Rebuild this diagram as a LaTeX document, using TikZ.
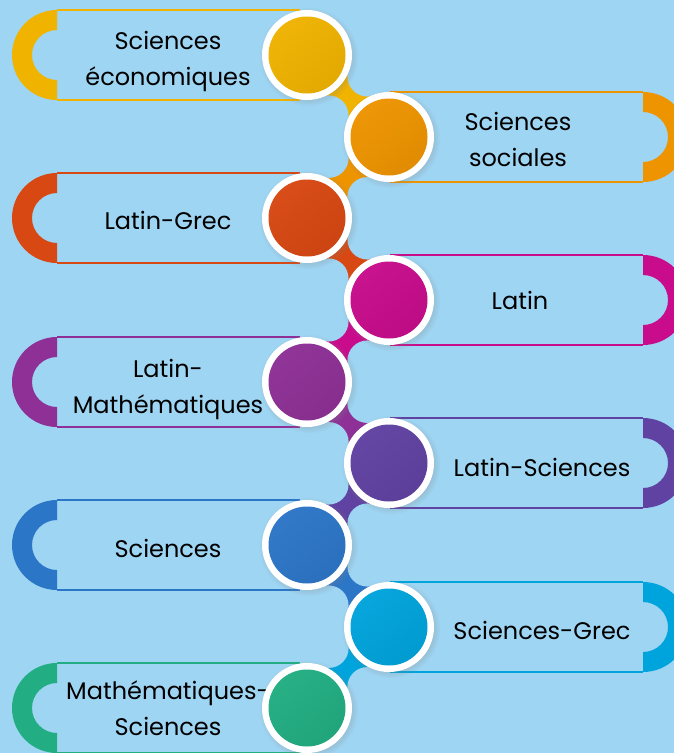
\documentclass[tikz,border=0pt]{standalone}
\usepackage{fontspec}
\setmainfont{Poppins}
\usepackage{tikz}
\usetikzlibrary{shadows,calc}

\definecolor{skyblue}{RGB}{158,213,243}
\definecolor{cyellow}{RGB}{240,179,0}
\definecolor{corange}{RGB}{238,148,0}
\definecolor{cred}{RGB}{216,72,18}
\definecolor{cmagenta}{RGB}{200,12,140}
\definecolor{cpurple}{RGB}{142,48,150}
\definecolor{cviolet}{RGB}{96,66,162}
\definecolor{cblue}{RGB}{44,118,200}
\definecolor{ccyan}{RGB}{0,164,220}
\definecolor{cgreen}{RGB}{34,174,130}

\begin{document}
\begin{tikzpicture}[x=1pt,y=-1pt,
  dot/.style={circle, fill=white, minimum size=90pt, inner sep=0pt,
    circular drop shadow={shadow xshift=1.5pt, shadow yshift=-1.5pt, opacity=0.25},
    path picture={\shade[top color=#1!97!white, bottom color=#1!94!black, shading angle=40]
      (path picture bounding box.center) circle[radius=38.5pt];}},
  bridge/.style={draw=#1, line width=40pt},
  txt/.style={align=center, font=\fontsize{24}{36}\selectfont},
  pics/lframe/.style={code={
    \fill[#1] (57,-45) arc[start angle=90, end angle=270, radius=45pt]
      -- (57,25) arc[start angle=270, end angle=90, radius=25pt] -- cycle;
    \draw[#1, line width=1.5pt] (57,-45) -- (300,-45) (57,45) -- (300,45);}},
  pics/rframe/.style={code={
    \fill[#1] (643,-45) arc[start angle=90, end angle=-90, radius=45pt]
      -- (643,25) arc[start angle=-90, end angle=90, radius=25pt] -- cycle;
    \draw[#1, line width=1.5pt] (390,-45) -- (643,-45) (390,45) -- (643,45);}}]

  \useasboundingbox (0,0) rectangle (674,753);
  \clip (0,0) rectangle (674,753);
  \fill[skyblue] (0,0) rectangle (674,753);

  % frames
  \pic at (0,55)  {lframe=cyellow};
  \pic at (0,137) {rframe=corange};
  \pic at (0,218) {lframe=cred};
  \pic at (0,300) {rframe=cmagenta};
  \pic at (0,382) {lframe=cpurple};
  \pic at (0,463) {rframe=cviolet};
  \pic at (0,545) {lframe=cblue};
  \pic at (0,627) {rframe=ccyan};
  \pic at (0,708) {lframe=cgreen};

  \coordinate (p1) at (307,55);
  \coordinate (p2) at (389,137);
  \coordinate (p3) at (307,218);
  \coordinate (p4) at (389,300);
  \coordinate (p5) at (307,382);
  \coordinate (p6) at (389,463);
  \coordinate (p7) at (307,545);
  \coordinate (p8) at (389,627);
  \coordinate (p9) at (307,708);

  % necks between the discs
  \foreach \a/\b/\c in {p1/p2/cyellow, p2/p3/corange, p3/p4/cred, p4/p5/cmagenta,
                        p5/p6/cpurple, p6/p7/cviolet, p7/p8/cblue, p8/p9/ccyan} {
    \draw[bridge=\c] (\a) -- (\b);
    \fill[skyblue] ($(\a)!0.5!(\b)!27.5pt!90:(\b)$) circle[radius=20pt]
                   ($(\a)!0.5!(\b)!27.5pt!-90:(\b)$) circle[radius=20pt];
  }

  \node[txt] (t1) at (168,61)  {Sciences\\économiques};
  \node[txt] (t2) at (518,139) {Sciences\\sociales};
  \node[txt] (t3) at (168,220) {Latin-Grec};
  \node[txt] (t4) at (520,300) {Latin};
  \node[txt] (t5) at (168,389) {Latin-\\Mathématiques};
  \node[txt] (t6) at (542,467) {Latin-Sciences};
  \node[txt] (t7) at (168,548) {Sciences};
  \node[txt] (t8) at (542,630) {Sciences-Grec};
  \node[txt] (t9) at (168,708) {Mathématiques-\\Sciences};

  \node[dot=cyellow]  (d1) at (p1) {};
  \node[dot=corange]  (d2) at (p2) {};
  \node[dot=cred]     (d3) at (p3) {};
  \node[dot=cmagenta] (d4) at (p4) {};
  \node[dot=cpurple]  (d5) at (p5) {};
  \node[dot=cviolet]  (d6) at (p6) {};
  \node[dot=cblue]    (d7) at (p7) {};
  \node[dot=ccyan]    (d8) at (p8) {};
  \node[dot=cgreen]   (d9) at (p9) {};
\end{tikzpicture}
\end{document}
